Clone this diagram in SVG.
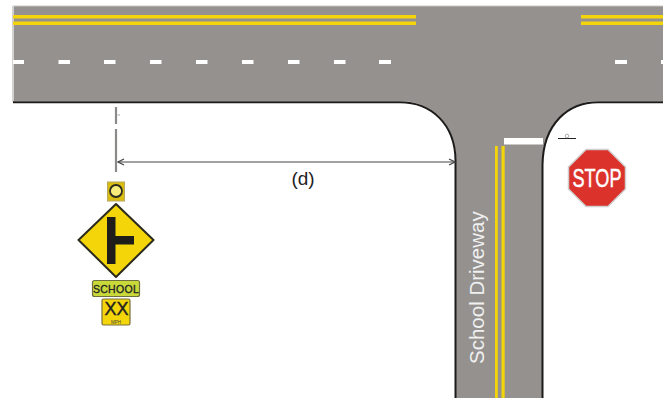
<svg xmlns="http://www.w3.org/2000/svg" width="663" height="398" viewBox="0 0 663 398">
<style>
.y{fill:#f3d50a}.d{fill:#fff}
text{font-family:"Liberation Sans",Arial,sans-serif}
.edge{fill:none;stroke:#1d1b1a;stroke-width:2}
</style>
<defs>
<marker id="ah" markerWidth="8" markerHeight="8" refX="7" refY="4" orient="auto-start-reverse" markerUnits="userSpaceOnUse"><path d="M1 1L7 4L1 7" fill="none" stroke="#444" stroke-width="1.300"/></marker>
</defs>
<rect width="663" height="398" fill="#fff"/>
<g id="road">
<path d="M13 6H663V101H598C568 101 543 124 543 165V398H456V160C456 124 431 101 400 101H13Z" fill="#94918f"/>
<path d="M13 6H663" stroke="#c8c6c4" stroke-width="1" fill="none"/>
<path d="M13 6V102" stroke="#d4d2d0" stroke-width="2" fill="none"/>
<path class="edge" d="M13 102.300H400C431 102.300 455 124 455.500 160V398"/>
<path class="edge" d="M663 102.300H598C568 102.300 543 124 542.500 165V398"/>
<g class="y">
<rect x="13" y="15" width="403" height="3.500"/><rect x="13" y="21.500" width="403" height="3.500"/>
<rect x="581" y="15" width="82" height="3.500"/><rect x="581" y="21.500" width="82" height="3.500"/>
<rect x="495" y="146" width="2.800" height="252"/><rect x="501.500" y="146" width="3.200" height="252"/>
</g>
<g class="d">
<rect x="13" y="60" width="11" height="4"/><rect x="58.500" y="60" width="11.500" height="4"/><rect x="104" y="60" width="11.500" height="4"/><rect x="150" y="60" width="11.500" height="4"/><rect x="196" y="60" width="11.500" height="4"/><rect x="242" y="60" width="11.500" height="4"/><rect x="288" y="60" width="11.500" height="4"/><rect x="334" y="60" width="11.500" height="4"/><rect x="379" y="60" width="12" height="4"/><rect x="615" y="60" width="12" height="4"/><rect x="661" y="60" width="2" height="4"/>
<rect x="504" y="138" width="39" height="6.500"/>
</g>
<text transform="translate(484 364) rotate(-90)" font-size="20.500" fill="#f0f0f0">School Driveway</text>
</g>
<g id="connectors">
<path d="M116 107V124M116 129V172" stroke="#8c8a88" stroke-width="2.200" fill="none"/>
<path d="M117.500 115H120" stroke="#aaa" stroke-width="1" fill="none"/>
<path d="M118 162H455" stroke="#444" stroke-width="1" fill="none" marker-start="url(#ah)" marker-end="url(#ah)"/>
<path d="M558 138.500H576" stroke="#222" stroke-width="1" fill="none"/>
<circle cx="567" cy="136" r="1.800" fill="none" stroke="#999" stroke-width="0.800"/>
</g>
<text id="label-d" x="303" y="185" font-size="19" text-anchor="middle" fill="#222">(d)</text>
<g id="flasher">
<rect x="107.500" y="182" width="17" height="19" fill="#d9bd10" stroke="#b8a860" stroke-width="1"/>
<circle cx="116" cy="191" r="6" fill="#f8ec7a" stroke="#2a2a20" stroke-width="1.800"/>
</g>
<g id="warning-sign">
<path d="M116 204L153.500 240L116 277L78.500 240Z" fill="#f3d50a" stroke="#2b2a1c" stroke-width="2" stroke-linejoin="round"/>
<path d="M107 217H115.500V236H134V244.500H115.500V264H107Z" fill="#1f1d1a"/>
</g>
<g id="school-plaque">
<rect x="92.500" y="280.500" width="47" height="16" rx="2" fill="#c9d93a" stroke="#6f7040" stroke-width="1.200"/>
<text x="116" y="292.500" font-size="10.500" text-anchor="middle" fill="#222" stroke="#222" stroke-width="0.300" letter-spacing="0.300">SCHOOL</text>
</g>
<g id="speed-plaque">
<rect x="102" y="299" width="28" height="26" rx="1.500" fill="#f3d50a" stroke="#77703a" stroke-width="1.200"/>
<text x="116.500" y="315" font-size="18" text-anchor="middle" fill="#222" stroke="#222" stroke-width="0.400">XX</text>
<text x="116" y="324" font-size="4.500" text-anchor="middle" fill="#444">MPH</text>
</g>
<g id="stop-sign">
<path d="M586 149.500H608L625.500 167V189L608 206.500H586L568.500 189V167Z" fill="#dc322c" stroke="#cfcfcf" stroke-width="1.500"/>
<text x="597" y="187" font-size="26" text-anchor="middle" fill="#fff" stroke="#fff" stroke-width="0.500" textLength="49" lengthAdjust="spacingAndGlyphs">STOP</text>
</g>
</svg>
